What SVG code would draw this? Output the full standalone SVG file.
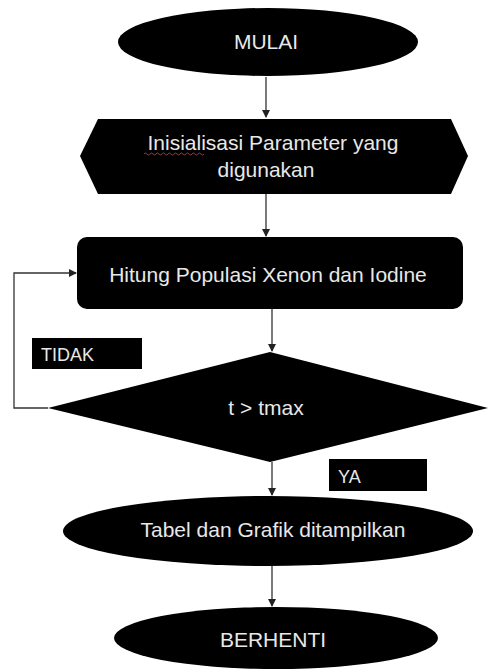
<svg xmlns="http://www.w3.org/2000/svg" width="488" height="670" viewBox="0 0 488 670">
<style>
.shape{fill:#000;}
.t{fill:#e8e8e8;font-family:"Liberation Sans",Arial,sans-serif;font-size:21px;text-anchor:middle;}
.lbl{fill:#e8e8e8;font-family:"Liberation Sans",Arial,sans-serif;font-size:18px;}
.edge{fill:none;stroke:#333;stroke-width:1.3;}
</style>
<defs>
<marker id="ah" markerWidth="8" markerHeight="8" refX="7" refY="4" orient="auto" markerUnits="userSpaceOnUse">
<path d="M0,0 L8,4 L0,8 Z" fill="#222"/>
</marker>
</defs>
<rect width="488" height="670" fill="#fff"/>
<g id="connectors">
<line class="edge" x1="266" y1="77" x2="266" y2="117" marker-end="url(#ah)"/>
<line class="edge" x1="266" y1="194" x2="266" y2="236" marker-end="url(#ah)"/>
<line class="edge" x1="272" y1="309" x2="272" y2="351" marker-end="url(#ah)"/>
<line class="edge" x1="272" y1="462" x2="272" y2="495" marker-end="url(#ah)"/>
<line class="edge" x1="272" y1="566" x2="272" y2="606" marker-end="url(#ah)"/>
<polyline class="edge" points="48,408 14,408 14,273 76,273" marker-end="url(#ah)"/>
</g>
<g id="mulai">
<ellipse class="shape" cx="268" cy="42" rx="150" ry="34"/>
<text class="t" x="266" y="49" font-size="20">MULAI</text>
</g>
<g id="inisialisasi">
<polygon class="shape" points="98,119 451,119 468,156 451,194 98,194 80,156"/>
<text class="t" x="273" y="150">Inisialisasi Parameter yang</text>
<text class="t" x="266" y="177">digunakan</text>
<path d="M144,154 q1.5,-2 3,0 t3,0 t3,0 t3,0 t3,0 t3,0 t3,0 t3,0 t3,0 t3,0 t3,0 t3,0 t3,0 t3,0 t3,0 t3,0 t3,0 t3,0 t3,0 t3,0" fill="none" stroke="#b03030" stroke-width="1"/>
</g>
<g id="hitung">
<rect class="shape" x="77" y="237" width="386" height="72" rx="10" ry="10"/>
<text class="t" x="268" y="282">Hitung Populasi Xenon dan Iodine</text>
</g>
<g id="keputusan">
<polygon class="shape" points="270,352 488,408 270,462 48,408"/>
<text class="t" x="266" y="415">t &gt; tmax</text>
</g>
<g id="label-tidak">
<rect class="shape" x="32" y="338" width="110" height="31"/>
<text class="lbl" x="41" y="361">TIDAK</text>
</g>
<g id="label-ya">
<rect class="shape" x="329" y="459" width="98" height="32"/>
<text class="lbl" x="338" y="483">YA</text>
</g>
<g id="tabel">
<ellipse class="shape" cx="268" cy="531" rx="205" ry="35"/>
<text class="t" x="273" y="537">Tabel dan Grafik ditampilkan</text>
</g>
<g id="berhenti">
<ellipse class="shape" cx="276" cy="638" rx="162" ry="31"/>
<text class="t" x="273" y="647">BERHENTI</text>
</g>
</svg>
